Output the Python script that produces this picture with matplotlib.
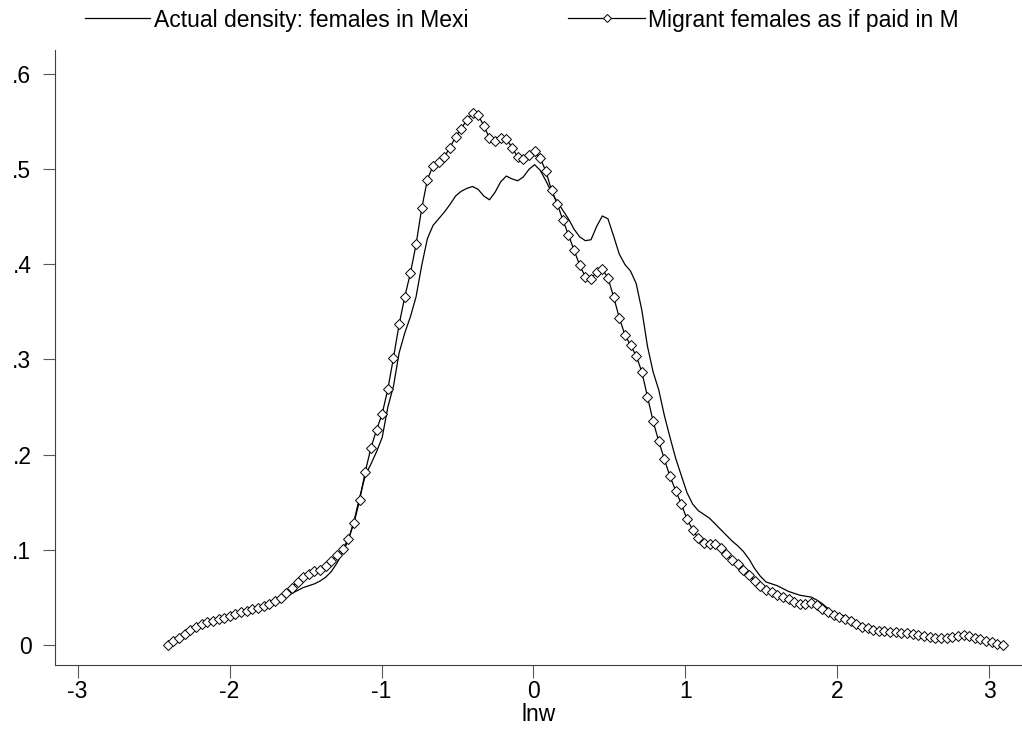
import matplotlib
matplotlib.use('Agg')
import matplotlib.pyplot as plt
import numpy as np
from matplotlib.lines import Line2D

plt.rcParams['font.family'] = ['Liberation Sans', 'DejaVu Sans']

# evaluation grid of the kernel densities
lnw = np.linspace(-2.407, 3.09, 149)

# Actual density: females in Mexico
actual = [
    0.000, 0.004, 0.007, 0.011, 0.015, 0.019, 0.022, 0.024, 0.025, 0.027,
    0.028, 0.030, 0.032, 0.034, 0.035, 0.037, 0.039, 0.041, 0.043, 0.045,
    0.047, 0.050, 0.054, 0.057, 0.060, 0.062, 0.064, 0.067, 0.071, 0.077,
    0.086, 0.097, 0.110, 0.130, 0.155, 0.178, 0.190, 0.203, 0.218, 0.250,
    0.272, 0.307, 0.328, 0.345, 0.366, 0.399, 0.427, 0.441, 0.448, 0.455,
    0.463, 0.472, 0.477, 0.480, 0.482, 0.479, 0.472, 0.468, 0.476, 0.487,
    0.493, 0.490, 0.488, 0.492, 0.500, 0.505, 0.499, 0.488, 0.476, 0.466,
    0.457, 0.448, 0.437, 0.429, 0.425, 0.426, 0.440, 0.451, 0.448, 0.430,
    0.411, 0.400, 0.393, 0.380, 0.352, 0.314, 0.287, 0.268, 0.241, 0.218,
    0.196, 0.178, 0.160, 0.148, 0.141, 0.137, 0.133, 0.127, 0.121, 0.115,
    0.109, 0.104, 0.098, 0.090, 0.080, 0.072, 0.066, 0.064, 0.062, 0.059,
    0.056, 0.054, 0.052, 0.051, 0.050, 0.047, 0.043, 0.038, 0.034, 0.032,
    0.030, 0.027, 0.023, 0.020, 0.017, 0.015, 0.014, 0.014, 0.013, 0.013,
    0.012, 0.012, 0.011, 0.010, 0.009, 0.008, 0.007, 0.007, 0.007, 0.008,
    0.009, 0.010, 0.009, 0.007, 0.006, 0.004, 0.003, 0.001, 0.000,
]

# Migrant females as if paid in Mexico
migrant = [
    0.000, 0.004, 0.007, 0.011, 0.015, 0.019, 0.022, 0.024, 0.025, 0.027,
    0.028, 0.030, 0.032, 0.034, 0.035, 0.037, 0.039, 0.041, 0.043, 0.046,
    0.049, 0.054, 0.060, 0.066, 0.071, 0.074, 0.077, 0.079, 0.083, 0.088,
    0.094, 0.101, 0.111, 0.128, 0.152, 0.182, 0.207, 0.226, 0.243, 0.269,
    0.302, 0.337, 0.366, 0.391, 0.421, 0.459, 0.489, 0.504, 0.508, 0.513,
    0.523, 0.534, 0.543, 0.552, 0.559, 0.557, 0.546, 0.533, 0.530, 0.533,
    0.532, 0.523, 0.513, 0.511, 0.515, 0.519, 0.512, 0.498, 0.478, 0.464,
    0.447, 0.431, 0.415, 0.399, 0.387, 0.385, 0.392, 0.395, 0.386, 0.366,
    0.344, 0.326, 0.315, 0.304, 0.287, 0.261, 0.235, 0.214, 0.195, 0.177,
    0.162, 0.148, 0.132, 0.121, 0.112, 0.107, 0.106, 0.106, 0.102, 0.095,
    0.089, 0.085, 0.079, 0.073, 0.067, 0.062, 0.058, 0.055, 0.052, 0.050,
    0.048, 0.045, 0.043, 0.043, 0.044, 0.042, 0.038, 0.034, 0.031, 0.029,
    0.027, 0.025, 0.022, 0.019, 0.017, 0.015, 0.014, 0.014, 0.013, 0.013,
    0.012, 0.012, 0.011, 0.010, 0.009, 0.008, 0.007, 0.007, 0.007, 0.008,
    0.009, 0.010, 0.009, 0.007, 0.006, 0.004, 0.003, 0.001, 0.000,
]

xticks = [-3, -2, -1, 0, 1, 2, 3]
yticks = [0, 0.1, 0.2, 0.3, 0.4, 0.5, 0.6]
ylabels = ['0', '.1', '.2', '.3', '.4', '.5', '.6']

fs = 16.5
W, H = 1022, 729
fig = plt.figure(figsize=(W / 100, H / 100), dpi=100)
ax = fig.add_axes([55 / W, 64 / H, 967 / W, 615 / H])

ax.plot(lnw, actual, color='black', lw=0.9)
ax.plot(lnw, migrant, color='black', lw=0.9, marker='D', ms=5,
        mfc='white', mec='black', mew=0.7)

ax.set_xlim(-3.149, 3.215)
ax.set_ylim(-0.0214, 0.6256)
ax.set_xticks(xticks)
ax.set_xticklabels([str(t) for t in xticks])
ax.set_yticks(yticks)
ax.set_yticklabels(ylabels)
ax.tick_params(axis='both', labelsize=fs, length=9, width=0.8, color='0.35')
ax.tick_params(axis='x', pad=2)
ax.tick_params(axis='y', pad=8)
ax.spines['top'].set_visible(False)
ax.spines['right'].set_visible(False)
for s in ['left', 'bottom']:
    ax.spines[s].set_linewidth(0.8)
    ax.spines[s].set_color('0.25')
ax.set_xlabel('lnw', fontsize=fs, labelpad=0)

h1 = Line2D([], [], color='black', lw=0.9)
h2 = Line2D([], [], color='black', lw=0.9, marker='D', ms=4,
            mfc='white', mec='black', mew=0.7)
fig.legend([h1], ['Actual density: females in Mexi'], loc='center left',
           bbox_to_anchor=(85 / W, 1 - 20 / H), frameon=False, fontsize=fs,
           handlelength=2.84, handletextpad=0.15, borderpad=0, borderaxespad=0)
fig.legend([h2], ['Migrant females as if paid in M'], loc='center left',
           bbox_to_anchor=(568 / W, 1 - 20 / H), frameon=False, fontsize=fs,
           handlelength=3.36, handletextpad=0.15, borderpad=0, borderaxespad=0,
           numpoints=1)

fig.savefig('out.png', dpi=100)
